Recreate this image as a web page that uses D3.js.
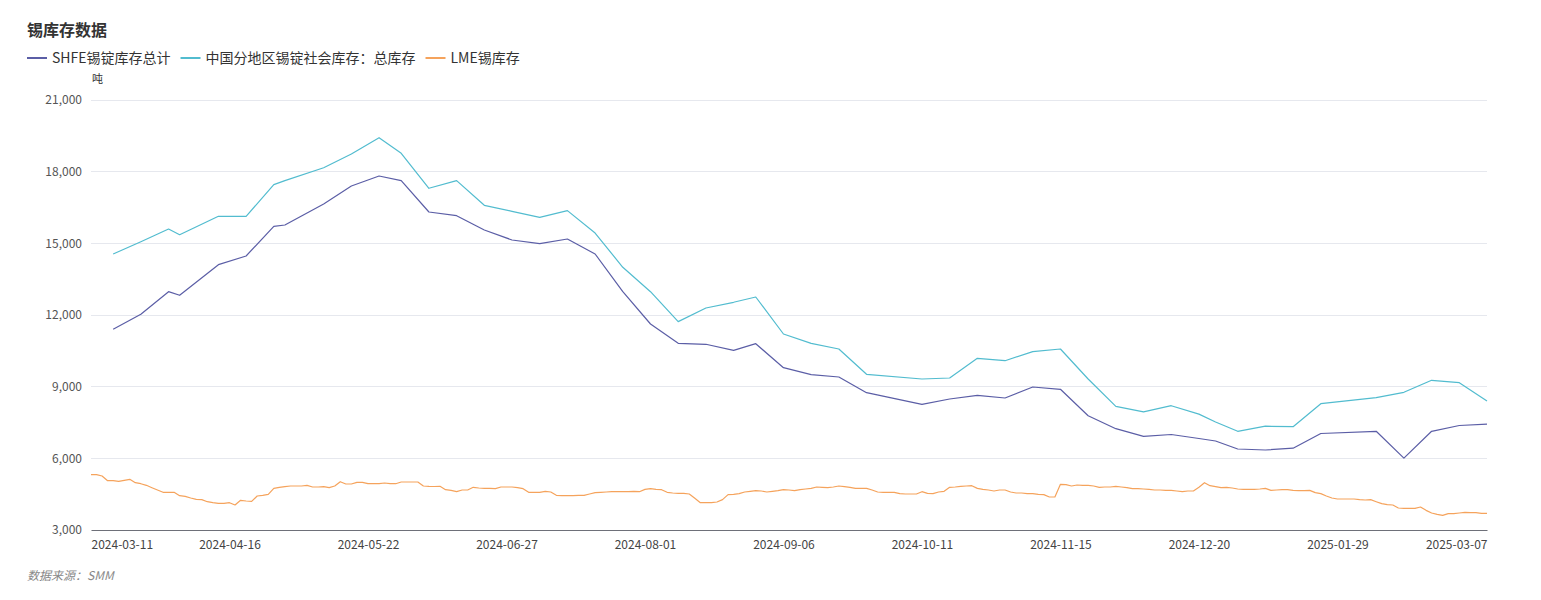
<!DOCTYPE html>
<html><head><meta charset="utf-8">
<script src="https://cdn.jsdelivr.net/npm/d3@7/dist/d3.min.js"></script>
<style>
html,body{margin:0;padding:0;background:#fff;}
svg text{font-family:"Noto Sans CJK SC","Noto Sans",sans-serif;}
</style></head>
<body><svg id="c" width="1541" height="600"></svg>
<script>
// ---- data ----
const startDate = "2024-03-11", endDate = "2025-03-07";
// LME holidays (non-trading weekdays) removed from the category axis; 2024-03-29 kept (SHFE reporting day)
const lmeHolidays = ["2024-04-01","2024-05-06","2024-05-27","2024-08-26","2024-12-25","2024-12-26","2025-01-01"];
const seriesNames = ["SHFE锡锭库存总计","中国分地区锡锭社会库存：总库存","LME锡库存"];
const yTicks = [3000,6000,9000,12000,15000,18000,21000];
const shfeDates = ["2024-03-15","2024-03-22","2024-03-29","2024-04-03","2024-04-12","2024-04-19","2024-04-26","2024-04-30","2024-05-10","2024-05-17","2024-05-24","2024-05-31","2024-06-07","2024-06-14","2024-06-21","2024-06-28","2024-07-05","2024-07-12","2024-07-19","2024-07-26","2024-08-02","2024-08-09","2024-08-16","2024-08-23","2024-08-30","2024-09-06","2024-09-13","2024-09-20","2024-09-27","2024-10-11","2024-10-18","2024-10-25","2024-11-01","2024-11-08","2024-11-15","2024-11-22","2024-11-29","2024-12-06","2024-12-13","2024-12-20","2024-12-27","2025-01-03","2025-01-10","2025-01-17","2025-01-24","2025-02-07","2025-02-14","2025-02-21","2025-02-28","2025-03-07"];
const shfeValues = [11400,12030,12976,12825,14106,14470,15712,15767,16650,17400,17818,17622,16312,16157,15558,15140,14985,15181,14553,12976,11623,10815,10774,10522,10799,9794,9501,9405,8748,8262,8484,8638,8526,8986,8890,7785,7241,6922,6998,6830,6725,6391,6349,6425,7040,7132,6008,7132,7375,7430];
const socialValues = [14553,15069,15600,15362,16131,16131,17455,17623,18166,18740,19422,18768,17304,17623,16592,16341,16090,16369,15430,13997,12976,11722,12293,12532,12753,11205,10815,10577,9518,9321,9363,10187,10087,10464,10577,9321,8178,7945,8203,7850,7520,7132,7345,7324,8287,8538,8764,9266,9166,8400];
// LME daily stocks, one value per category (trading day)
const lmeValues = [5315,5315,5260,5064,5064,5038,5080,5122,4980,4938,4871,4771,4674,4578,4578,4578,4436,4410,4340,4284,4270,4185,4143,4116,4116,4143,4046,4243,4214,4200,4423,4452,4494,4745,4787,4813,4842,4842,4842,4871,4800,4800,4813,4771,4842,5022,4926,4926,4996,4996,4938,4938,4938,4967,4938,4938,5009,5009,5009,5009,4842,4827,4820,4828,4688,4660,4604,4674,4674,4787,4758,4744,4744,4730,4800,4800,4800,4771,4730,4578,4578,4578,4620,4590,4452,4438,4438,4438,4452,4452,4507,4563,4578,4590,4604,4604,4604,4604,4620,4604,4702,4730,4702,4688,4578,4548,4535,4535,4507,4326,4143,4143,4143,4172,4270,4479,4494,4521,4590,4620,4646,4632,4590,4620,4646,4688,4674,4646,4688,4716,4744,4800,4787,4771,4800,4842,4813,4787,4744,4744,4744,4674,4590,4578,4578,4578,4521,4507,4507,4507,4604,4535,4521,4590,4620,4787,4800,4827,4842,4855,4744,4702,4674,4632,4674,4674,4590,4548,4548,4521,4521,4494,4479,4381,4381,4912,4898,4842,4884,4871,4871,4842,4787,4800,4800,4827,4800,4771,4730,4730,4716,4702,4674,4674,4660,4660,4632,4604,4632,4632,4787,4980,4855,4813,4771,4787,4758,4716,4702,4702,4702,4716,4745,4660,4674,4688,4688,4660,4646,4646,4660,4563,4521,4423,4340,4298,4298,4298,4298,4270,4256,4270,4185,4102,4060,4046,3920,3906,3906,3906,3962,3823,3712,3656,3614,3684,3684,3712,3740,3726,3726,3698,3698];
const colors = ["#5b5ea6","#52bccf","#f5a35c"];

// ---- categories (trading calendar) ----
const fmt = d3.utcFormat("%Y-%m-%d"), parse = d3.utcParse("%Y-%m-%d");
const categories = d3.utcDay.range(parse(startDate), d3.utcDay.offset(parse(endDate),1))
  .filter(d => d.getUTCDay()!==0 && d.getUTCDay()!==6)
  .map(fmt).filter(s => !lmeHolidays.includes(s));

const svg = d3.select("#c");
const m = {l:91, r:1487, t:100, b:530};
const x = d3.scalePoint().domain(categories).range([m.l, m.r]);
const y = d3.scaleLinear().domain([3000,21000]).range([m.b, m.t]);

// title
svg.append("text").attr("x",27).attr("y",36).attr("font-size",16).attr("font-weight","bold").attr("fill","#333").text("锡库存数据");

// grid
svg.append("g").selectAll("line").data(yTicks.filter(v=>v>3000)).join("line")
  .attr("x1",m.l).attr("x2",m.r).attr("y1",d=>y(d)).attr("y2",d=>y(d))
  .attr("stroke","#e6e8ee").attr("stroke-width",1).attr("shape-rendering","crispEdges");

// y axis labels
const yAxis = d3.axisLeft(y).tickValues(yTicks).tickSize(0).tickPadding(8).tickFormat(d3.format(","));
const gy = svg.append("g").attr("transform",`translate(${m.l-1},0)`).call(yAxis);
gy.select(".domain").remove();
gy.selectAll("text").attr("font-size",12).attr("fill","#555").style("font-family","'Noto Sans CJK SC','Noto Sans',sans-serif");
svg.append("text").attr("x",92).attr("y",83).attr("font-size",11).attr("fill","#333").text("吨");

// x axis
const labelIdx = d3.range(0,categories.length-10,25).concat([categories.length-1]);
const labelCats = labelIdx.map(i=>categories[i]);
const xAxis = d3.axisBottom(x).tickValues(labelCats).tickSize(0).tickPadding(10);
const gx = svg.append("g").attr("transform",`translate(0,${m.b})`).call(xAxis);
gx.select(".domain").attr("stroke","#6e7079").attr("stroke-width",1.2);
gx.selectAll("text").attr("font-size",12).attr("fill","#444").style("font-family","'Noto Sans CJK SC','Noto Sans',sans-serif")
  .attr("text-anchor",(d,i)=> i===0 ? "start" : (i===labelCats.length-1 ? "end" : "middle"));

// lines
const line = d3.line().x(d=>x(d[0])).y(d=>y(d[1]));
const lmeData = categories.map((c,i)=>[c,lmeValues[i]]);
const shfeData = shfeDates.map((c,i)=>[c,shfeValues[i]]);
const socialData = shfeDates.map((c,i)=>[c,socialValues[i]]);
[[lmeData,2],[socialData,1],[shfeData,0]].forEach(([data,ci])=>{
  svg.append("path").datum(data).attr("d",line).attr("fill","none")
    .attr("stroke",colors[ci]).attr("stroke-width",1.2).attr("stroke-linejoin","round");
});

// legend
const legend = svg.append("g").attr("transform","translate(27,58)");
let lx = 0;
seriesNames.forEach((name,i)=>{
  legend.append("line").attr("x1",lx).attr("x2",lx+20).attr("y1",0).attr("y2",0)
    .attr("stroke",colors[i]).attr("stroke-width",2);
  const t = legend.append("text").attr("x",lx+25).attr("y",5).attr("font-size",14).attr("fill","#333").text(name);
  lx += 25 + t.node().getComputedTextLength() + 10;
});

// source
svg.append("text").attr("x",27).attr("y",580).attr("font-size",12).attr("font-style","italic").attr("fill","#888").text("数据来源：SMM");
</script></body></html>
